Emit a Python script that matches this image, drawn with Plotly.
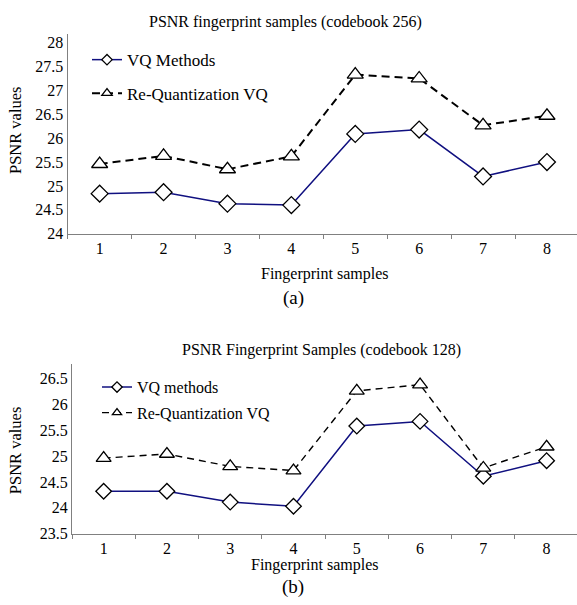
import plotly.graph_objects as go

# ---- data ----
samples = ["1", "2", "3", "4", "5", "6", "7", "8"]
vq_256 = [24.84, 24.87, 24.63, 24.60, 26.09, 26.18, 25.20, 25.50]
rq_256 = [25.46, 25.63, 25.35, 25.62, 27.33, 27.25, 26.27, 26.47]
vq_128 = [24.32, 24.32, 24.11, 24.03, 25.58, 25.67, 24.61, 24.91]
rq_128 = [24.96, 25.04, 24.80, 24.72, 26.26, 26.38, 24.77, 25.18]

W, H = 577, 605
FONT = "Liberation Serif, Times New Roman, serif"
NAVY = "#101080"
GRAY = "#808080"


def px(x):
    return x / W


def py(y):
    return 1 - y / H


fig = go.Figure()


def diamond(size):
    return dict(symbol="diamond", size=size, color="white", line=dict(color="black", width=1.3))


def tri(size):
    return dict(symbol="triangle-up", size=size, color="white", line=dict(color="black", width=1.3))


series = [
    # name, values, axes, legend, line, marker, legend marker
    ("VQ Methods", vq_256, ("x", "y"), "legend",
     dict(color=NAVY, width=1.5), diamond(13), diamond(8)),
    ("Re-Quantization VQ", rq_256, ("x", "y"), "legend2",
     dict(color="black", width=2, dash="8px,5px"), tri(14), tri(9)),
    ("VQ methods", vq_128, ("x2", "y2"), "legend3",
     dict(color=NAVY, width=1.5), diamond(12), diamond(8)),
    ("Re-Quantization VQ", rq_128, ("x2", "y2"), "legend4",
     dict(color="black", width=1.4, dash="7px,5px"), tri(13), tri(8)),
]

for name, vals, (xa, ya), leg, line, mk, legmk in series:
    fig.add_trace(go.Scatter(x=samples, y=vals, mode="lines+markers", name=name,
                             line=line, marker=mk, xaxis=xa, yaxis=ya, showlegend=False))
    # legend-only entry (smaller marker, as in the reference legend)
    fig.add_trace(go.Scatter(x=[None], y=[None], mode="lines+markers", name=name,
                             line=line, marker=legmk, xaxis=xa, yaxis=ya,
                             legend=leg, showlegend=True, hoverinfo="skip"))

xcommon = dict(type="category", tickson="boundaries", ticks="outside", ticklen=4,
               tickcolor=GRAY, showline=True, linecolor=GRAY, linewidth=1.3,
               showgrid=False, zeroline=False, tickfont=dict(size=16, color="black"))
ycommon = dict(showline=True, linecolor=GRAY, linewidth=1.3, ticks="", showgrid=False,
               zeroline=False, dtick=0.5, tickfont=dict(size=16, color="black"))

legcommon = dict(xanchor="left", yanchor="middle", bgcolor="rgba(0,0,0,0)", borderwidth=0)

fig.update_layout(
    width=W, height=H,
    margin=dict(l=0, r=0, t=0, b=0),
    paper_bgcolor="white", plot_bgcolor="white",
    font=dict(family=FONT, color="black"),
    showlegend=True,
    xaxis=dict(domain=[px(67.7), 1], range=[-0.5, 7.47], anchor="y", **xcommon),
    yaxis=dict(domain=[py(237.3), py(35)], range=[24, 28.17], anchor="x", **ycommon),
    xaxis2=dict(domain=[px(72), 1], range=[-0.5, 7.48], anchor="y2", **xcommon),
    yaxis2=dict(domain=[py(541.7), py(370)], range=[23.5, 26.77], anchor="x2", **ycommon),
    legend=dict(x=px(87), y=py(61), font=dict(size=17), **legcommon),
    legend2=dict(x=px(87), y=py(95), font=dict(size=17), **legcommon),
    legend3=dict(x=px(97), y=py(393), font=dict(size=16), **legcommon),
    legend4=dict(x=px(97), y=py(419), font=dict(size=16), **legcommon),
)

ann = [
    ("PSNR fingerprint samples (codebook 256)", 285, 22, 16, 0),
    ("PSNR values", 15, 132, 16.5, -90),
    ("Fingerprint samples", 325, 278, 16, 0),
    ("(a)", 293, 303, 19, 0),
    ("PSNR Fingerprint Samples (codebook 128)", 321, 355, 16, 0),
    ("PSNR values", 15, 457, 16.5, -90),
    ("Fingerprint samples", 315, 574, 16, 0),
    ("(b)", 293, 596, 19, 0),
]
for text, x, y, size, ang in ann:
    fig.add_annotation(text=text, x=px(x), y=py(y), xref="paper", yref="paper",
                       xanchor="center", yanchor="middle", showarrow=False,
                       textangle=ang, font=dict(size=size, family=FONT, color="black"))

fig.write_html("out.html", config={"displayModeBar": False},
               post_script="document.body.style.margin='0';document.body.style.overflow='hidden';")
